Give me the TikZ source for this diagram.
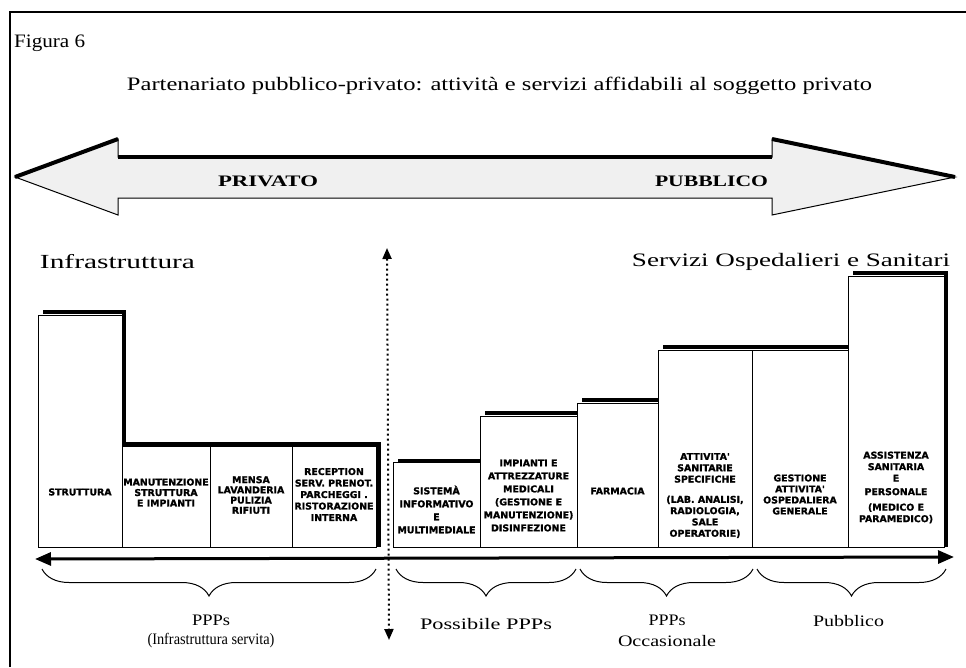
\documentclass[tikz,border=0pt]{standalone}
\usepackage{fontspec}
\usepackage{graphicx}
\newfontfamily\boxfont{DejaVu Sans}[BoldFeatures={FakeBold=1.3}]
\newfontfamily\tnr{Liberation Serif}
\usetikzlibrary{arrows.meta,decorations.pathreplacing}
\newcommand\wfit[2]{\resizebox{#1pt}{\height}{#2}}
\tikzset{
  bar/.style={draw, line width=0.8pt, fill=white, inner sep=0pt, anchor=south west},
  shadowline/.style={line width=4pt, line cap=butt, line join=miter},
  btxt/.style={font=\boxfont\bfseries\fontsize{9.4}{11}\selectfont, align=center, inner sep=0pt},
  lbl/.style={font=\tnr\fontsize{16}{16}\selectfont, inner sep=0pt},
  brc/.style={decorate, decoration={brace, amplitude=27pt}, line width=1pt},
}
\begin{document}
\begin{tikzpicture}[x=1pt,y=-1pt]
\useasboundingbox (0,0) rectangle (966,667);
% frame
\draw[line width=1.5pt] (10,667) -- (10,12) -- (966,12);
\node[anchor=west, inner sep=0pt, font=\tnr\fontsize{19}{19}\selectfont] (fig) at (14,43) {\wfit{71}{Figura 6}};
\node[inner sep=0pt, font=\tnr\fontsize{19}{19}\selectfont] (title) at (499.5,86) {\wfit{745}{Partenariato pubblico-privato: attivit\`a e servizi affidabili al soggetto privato}};
% big double arrow
\coordinate (LT) at (15,177);
\coordinate (LHt) at (118,139);
\coordinate (LSt) at (118,157);
\coordinate (RSt) at (772,157);
\coordinate (RHt) at (772,139);
\coordinate (RT) at (955,177);
\coordinate (RHb) at (772,215);
\coordinate (RSb) at (772,198);
\coordinate (LSb) at (118,198);
\coordinate (LHb) at (118,215);
\filldraw[fill=gray!12, line width=1pt] (LT) -- (LHt) -- (LSt) -- (RSt) -- (RHt) -- (RT) -- (RHb) -- (RSb) -- (LSb) -- (LHb) -- cycle;
\draw[line width=4pt] (LT) -- (LHt);
\draw[line width=4pt] (LSt) -- (RSt);
\draw[line width=4pt] (RHt) -- (RT);
\node[inner sep=0pt, font=\tnr\bfseries\fontsize{16}{16}\selectfont] (priv) at (268,181) {\wfit{100}{PRIVATO}};
\node[inner sep=0pt, font=\tnr\bfseries\fontsize{16}{16}\selectfont] (pubb) at (711.5,181) {\wfit{113}{PUBBLICO}};
% headings
\node[inner sep=0pt, font=\tnr\fontsize{20}{20}\selectfont] (infra) at (117.5,262) {\wfit{155}{Infrastruttura}};
\node[inner sep=0pt, font=\tnr\fontsize{19}{19}\selectfont] (serv) at (791,262) {\wfit{318}{Servizi Ospedalieri e Sanitari}};
% boxes left
\node[bar, minimum width=84pt, minimum height=232pt] (strut) at (38,548) {};
\node[bar, minimum width=88pt, minimum height=101pt] (manut) at (122,548) {};
\node[bar, minimum width=82pt, minimum height=101pt] (mensa) at (210,548) {};
\node[bar, minimum width=84pt, minimum height=101pt] (recep) at (292,548) {};
% boxes right
\node[bar, minimum width=87pt, minimum height=85pt] (sist) at (393,548) {};
\node[bar, minimum width=97pt, minimum height=131pt] (imp) at (480,548) {};
\node[bar, minimum width=81pt, minimum height=144pt] (farm) at (577,548) {};
\node[bar, minimum width=94pt, minimum height=197pt] (att) at (658,548) {};
\node[bar, minimum width=96pt, minimum height=197pt] (gest) at (752,548) {};
\node[bar, minimum width=96pt, minimum height=271pt] (ass) at (848,548) {};
% shadows
\draw[shadowline] (43,312) -- (124,312) -- (124,444) -- (379,444) -- (379,547);
\draw[shadowline] (398,461) -- (481,461);
\draw[shadowline] (485,413) -- (577,413);
\draw[shadowline] (582,400) -- (658,400);
\draw[shadowline] (663,347) -- (848,347);
\draw[shadowline] (853,273) -- (946,273) -- (946,547);
% box texts
\node[btxt] (tstrut) at (80,492) {STRUTTURA};
\node[btxt, font=\boxfont\bfseries\fontsize{9.4}{10.5}\selectfont] (tmanut) at (166,492.5) {MANUTENZIONE\\STRUTTURA\\E IMPIANTI};
\node[btxt, font=\boxfont\bfseries\fontsize{9.4}{10.2}\selectfont] (tmensa) at (251,495) {MENSA\\LAVANDERIA\\PULIZIA\\RIFIUTI};
\node[btxt, font=\boxfont\bfseries\fontsize{9.4}{11.5}\selectfont] (trecep) at (334,494.5) {RECEPTION\\SERV. PRENOT.\\PARCHEGGI .\\RISTORAZIONE\\INTERNA};
\node[btxt, font=\boxfont\bfseries\fontsize{9.4}{13}\selectfont] (tsist) at (436.5,509.5) {SISTEM\`A\\INFORMATIVO\\E\\MULTIMEDIALE};
\node[btxt, font=\boxfont\bfseries\fontsize{9.4}{13}\selectfont] (timp) at (528.5,495.5) {IMPIANTI E\\ATTREZZATURE\\MEDICALI\\(GESTIONE E\\MANUTENZIONE)\\DISINFEZIONE};
\node[btxt] (tfarm) at (617.5,491) {FARMACIA};
\node[btxt, font=\boxfont\bfseries\fontsize{9.4}{11.3}\selectfont] (tatt) at (705,495.5) {ATTIVITA'\\SANITARIE\\SPECIFICHE\\[9pt](LAB. ANALISI,\\RADIOLOGIA,\\SALE\\OPERATORIE)};
\node[btxt, font=\boxfont\bfseries\fontsize{9.4}{11}\selectfont] (tgest) at (800,494.5) {GESTIONE\\ATTIVITA'\\OSPEDALIERA\\GENERALE};
\node[btxt, font=\boxfont\bfseries\fontsize{9.4}{11.5}\selectfont] (tass) at (896,487.5) {ASSISTENZA\\SANITARIA\\E\\[2pt]PERSONALE\\[4pt](MEDICO E\\PARAMEDICO)};
% bottom axis
\coordinate (axL) at (35,559);
\coordinate (axR) at (954,557);
\draw[line width=3pt, {Triangle[length=16pt,width=13pt]}-{Triangle[length=16pt,width=13pt]}] (axL) -- (axR);
% dotted divider
\coordinate (dtop) at (387,248);
\coordinate (dbot) at (389,640);
\draw[line width=2pt, dash pattern=on 2pt off 3pt, {Triangle[length=11pt,width=9pt]}-{Triangle[length=11pt,width=9pt]}] (dtop) -- (dbot);
% braces
\coordinate (b1a) at (42,569); \coordinate (b1b) at (376,569);
\coordinate (b2a) at (396,569); \coordinate (b2b) at (576,569);
\coordinate (b3a) at (580,569); \coordinate (b3b) at (753,569);
\coordinate (b4a) at (757,569); \coordinate (b4b) at (946,569);
\draw[brc] (b1b) -- (b1a);
\draw[brc] (b2b) -- (b2a);
\draw[brc] (b3b) -- (b3a);
\draw[brc] (b4b) -- (b4a);
% labels
\node[lbl] (l1a) at (211,620) {\wfit{38}{PPPs}};
\node[lbl] (l1b) at (211,641) {\wfit{127}{(Infrastruttura servita)}};
\node[lbl] (l2) at (486,624) {\wfit{132}{Possibile PPPs}};
\node[lbl] (l3a) at (667,620) {\wfit{37}{PPPs}};
\node[lbl] (l3b) at (667,641) {\wfit{98}{Occasionale}};
\node[lbl] (l4) at (848.5,621) {\wfit{71}{Pubblico}};
\end{tikzpicture}
\end{document}
